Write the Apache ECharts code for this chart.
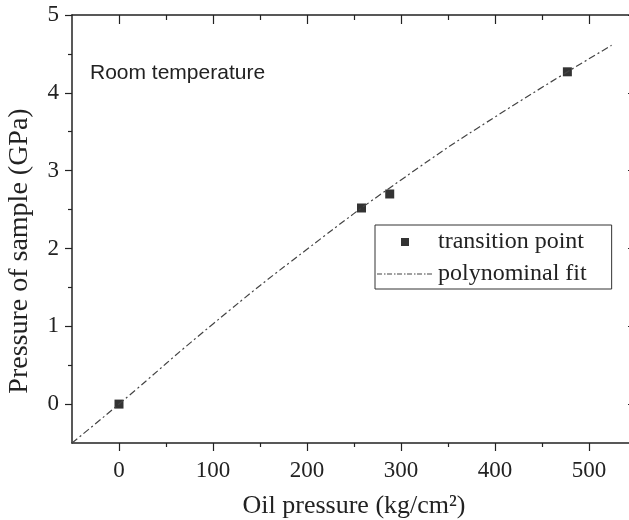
<!DOCTYPE html>
<html>
<head>
<meta charset="utf-8">
<script src="https://cdn.jsdelivr.net/npm/echarts@6/dist/echarts.min.js"></script>
<style>
  html, body { margin: 0; padding: 0; background: #fff; }
  #container { width: 629px; height: 520px; }
</style>
</head>
<body>
<div id="container"></div>
<script>
  // measured transition points: oil pressure (kg/cm2) -> sample pressure (GPa)
  var pointX = [0, 258, 288, 477];
  var pointY = [0, 2.52, 2.70, 4.27];

  // fit curve
  var fitX = [-50, 0, 100, 200, 300, 400, 524];
  var fitY = [-0.5, 0.0, 1.03, 1.99, 2.88, 3.69, 4.61];

  var xMajor = [0, 100, 200, 300, 400, 500];
  var xMinor = [50, 150, 250, 350, 450, 550];
  var yMajor = [0, 1, 2, 3, 4, 5];
  var yMinor = [0.5, 1.5, 2.5, 3.5, 4.5];

  var serif = 'Liberation Serif';
  var ink = '#222';

  // legend icons (56 x 9 box, degenerate corners keep the box size)
  var corners = 'M0,0L0,0M56,9L56,9';
  var squareIcon = 'path://' + corners + 'M24,0.5h8v8h-8z';
  var dashDotIcon = 'path://' + corners +
    'M0,4h5v1h-5zM7,4h1.5v1h-1.5zM10,4h5v1h-5zM17,4h1.5v1h-1.5zM20,4h5v1h-5zM27,4h1.5v1h-1.5z' +
    'M30,4h5v1h-5zM37,4h1.5v1h-1.5zM40,4h5v1h-5zM47,4h1.5v1h-1.5zM50,4h5v1h-5z';

  var dom = document.getElementById('container');
  var myChart = echarts.init(dom, null, { renderer: 'canvas' });

  function xAx(pos, ticks, len, inside, showLine, showLabel) {
    return {
      type: 'value', position: pos, min: -50, max: 550,
      axisLine: { show: showLine, onZero: false, lineStyle: { color: ink, width: 1.5 } },
      axisTick: { customValues: ticks, length: len, inside: inside, lineStyle: { color: ink, width: 1.2 } },
      axisLabel: showLabel ? { customValues: ticks, margin: 16, fontFamily: serif, fontSize: 23, color: ink } : { show: false },
      splitLine: { show: false }
    };
  }
  function yAx(pos, ticks, len, inside, showLine, showLabel) {
    return {
      type: 'value', position: pos, min: -0.5, max: 5,
      axisLine: { show: showLine, onZero: false, lineStyle: { color: ink, width: 1.5 } },
      axisTick: { customValues: ticks, length: len, inside: inside, lineStyle: { color: ink, width: 1.2 } },
      axisLabel: showLabel ? { customValues: ticks, margin: 13, fontFamily: serif, fontSize: 23, color: ink } : { show: false },
      splitLine: { show: false }
    };
  }

  var xAxes = [
    xAx('bottom', xMajor, 8, false, true, true),
    xAx('bottom', xMinor, 4, false, false, false),
    xAx('top', xMajor, 9, true, true, false),
    xAx('top', xMinor, 5, true, false, false)
  ];
  xAxes[0].name = 'Oil pressure (kg/cm²)';
  xAxes[0].nameLocation = 'middle';
  xAxes[0].nameGap = 50;
  xAxes[0].nameTextStyle = { fontFamily: serif, fontSize: 26, color: ink };

  var yAxes = [
    yAx('left', yMajor, 7, false, true, true),
    yAx('left', yMinor, 4, false, false, false),
    yAx('right', yMajor, 8, true, true, false),
    yAx('right', yMinor, 4, true, false, false)
  ];
  yAxes[0].name = 'Pressure of sample (GPa)';
  yAxes[0].nameLocation = 'middle';
  yAxes[0].nameGap = 38;
  // title sits a little below the axis middle in the original
  yAxes[0].nameTextStyle = { fontFamily: serif, fontSize: 28, color: ink, padding: [0, 44, 0, 0] };

  var option = {
    animation: false,
    title: {
      text: 'Room temperature',
      left: 85, top: 58,
      textStyle: { fontFamily: 'Liberation Sans', fontSize: 21, fontWeight: 'normal', color: ink }
    },
    legend: {
      orient: 'vertical',
      left: 375, top: 225,
      padding: [5, 25, 3, 2],
      borderColor: '#333', borderWidth: 1,
      itemWidth: 56, itemHeight: 9, itemGap: 8,
      textStyle: { fontFamily: serif, fontSize: 24, color: ink },
      data: [
        { name: 'transition point', icon: squareIcon, itemStyle: { color: '#000' } },
        { name: 'polynominal fit', icon: dashDotIcon, itemStyle: { color: '#444' } }
      ]
    },
    grid: { left: 72, top: 15, right: -7, bottom: 77, containLabel: false, outerBoundsMode: 'none' },
    xAxis: xAxes,
    yAxis: yAxes,
    series: [
      {
        name: 'polynominal fit',
        type: 'line',
        smooth: true,
        showSymbol: false,
        symbol: 'none',
        data: fitX.map(function (x, i) { return [x, fitY[i]]; }),
        lineStyle: { color: '#444', width: 1.2, type: [7, 3, 2, 3] },
        itemStyle: { color: '#444' }
      },
      {
        name: 'transition point',
        type: 'scatter',
        symbol: 'rect',
        symbolSize: 9,
        data: pointX.map(function (x, i) { return [x, pointY[i]]; }),
        itemStyle: { color: '#000' }
      }
    ]
  };

  myChart.setOption(option);
  window.addEventListener('resize', myChart.resize);
</script>
</body>
</html>
